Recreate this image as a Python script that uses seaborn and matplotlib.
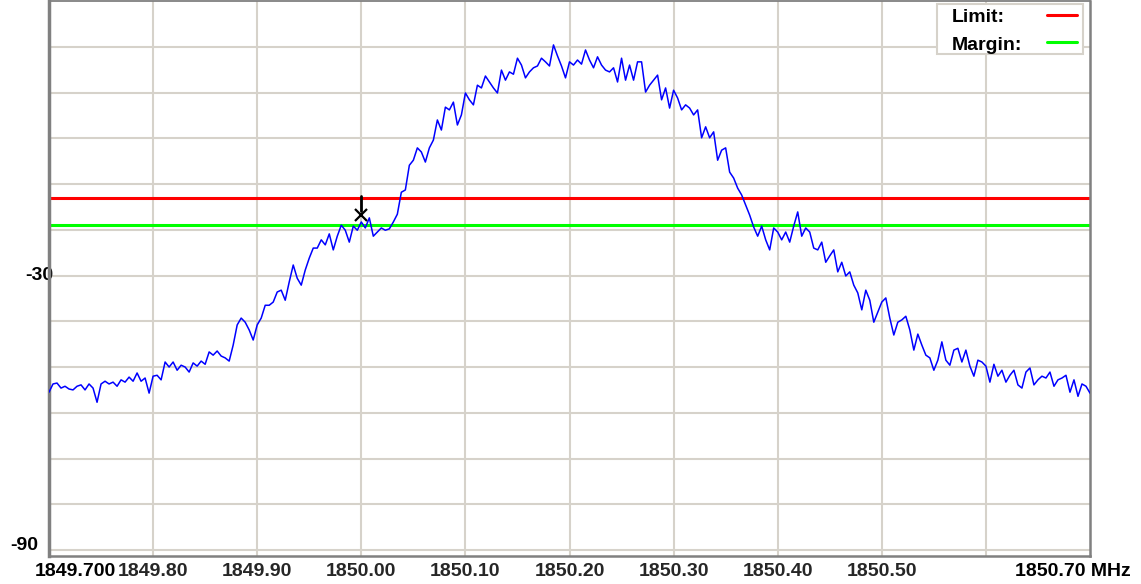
import numpy as np
import pandas as pd
import matplotlib
matplotlib.use("Agg")
import matplotlib.pyplot as plt
from matplotlib.patches import Rectangle
import seaborn as sns

# ============================================================
# 1. Data
# ============================================================
f_start, f_stop = 1849.70, 1850.70      # sweep span (MHz)
limit_db = -13.0
margin_db = -19.0
marker_freq = 1850.00
marker_level = -16.8

# trace level (dB), 261 sweep points left -> right
level_db = [
    -55.5, -53.7, -53.5, -54.6, -54.2, -54.8, -55.0, -54.2, -53.9, -55.0,
    -53.7, -54.6, -57.7, -53.7, -53.1, -53.7, -53.3, -54.2, -52.8, -53.3,
    -52.2, -53.1, -51.3, -53.1, -52.4, -55.7, -52.0, -51.8, -52.8, -48.9,
    -50.0, -48.9, -50.7, -49.6, -50.0, -51.1, -49.1, -49.8, -48.7, -49.4,
    -46.7, -47.4, -46.5, -47.6, -48.0, -48.7, -45.2, -40.8, -39.3, -40.2,
    -41.9,
    -44.1, -40.8, -39.3, -36.5, -36.5, -35.8, -33.6, -33.2, -35.4, -31.4,
    -27.7, -30.6, -32.1, -28.8, -26.2, -24.0, -24.0, -22.2, -23.3, -20.9,
    -24.4, -21.4, -19.0, -20.1, -22.7, -19.2, -20.1, -18.3, -19.6, -17.4,
    -21.4, -20.5, -19.6, -20.1, -19.8, -18.3, -16.6, -11.8, -11.3, -5.9,
    -4.8, -2.1, -3.0, -5.2, -2.1, -0.4,
    4.0, 1.8, 6.8, 6.2, 7.9, 2.9, 5.1, 9.9, 8.4, 7.3,
    11.6, 11.0, 13.6, 12.3, 11.0, 9.9, 14.9, 12.7, 14.5, 14.0,
    17.5, 16.0, 13.2, 14.5, 15.4, 15.8, 17.5, 16.7, 15.8, 20.4,
    18.0, 15.8, 13.2, 16.7, 16.0, 17.1, 16.2, 19.3, 17.1, 15.4,
    17.8, 16.0, 14.9, 14.5, 15.4, 12.3, 17.5, 12.7, 16.0, 12.7,
    16.7,
    16.7, 10.1, 11.6, 12.7, 13.8, 8.4, 11.0, 6.6, 10.5, 8.8,
    6.2, 7.3, 6.6, 5.1, 6.2, 0.1, 2.5, 0.1, 1.4, -4.8,
    -2.6, -2.1, -7.4, -8.7, -10.9, -12.4, -14.6, -16.8, -19.4, -21.4,
    -19.2, -22.2, -24.4, -19.6, -20.5, -22.2, -20.5, -22.7, -19.2, -16.1,
    -21.4, -19.6, -20.5, -24.0, -24.4,
    -22.7, -27.1, -25.7, -24.4, -29.2, -27.1, -30.1, -29.2, -32.1, -33.8,
    -37.5, -33.2, -35.4, -40.2, -38.0, -35.8, -34.9, -39.3, -43.0, -40.2,
    -39.7, -38.9, -41.9, -46.3, -42.8, -45.2, -47.4, -48.0, -50.7, -48.5,
    -44.5, -48.5, -49.6, -46.3, -45.9, -48.9, -46.3, -49.8, -52.0, -48.5,
    -48.9, -49.8, -53.3, -49.4, -52.0, -50.7,
    -53.3, -51.8, -50.7, -53.9, -54.6, -51.1, -50.2, -53.9, -52.8, -52.0,
    -52.4, -51.1, -54.2, -52.8, -52.4, -51.8, -55.5, -52.8, -56.4, -53.7,
    -54.2, -55.7,
]

x_grid = [1849.80, 1849.90, 1850.00, 1850.10, 1850.20, 1850.30, 1850.40, 1850.50, 1850.60]
x_labels = ["1849.80", "1849.90", "1850.00", "1850.10", "1850.20", "1850.30", "1850.40", "1850.50", ""]
y_grid = [-90, -80, -70, -60, -50, -40, -30, -20, -10, 0, 10, 20]

legend_labels = ["Limit:", "Margin:"]
legend_colors = ["#ff0000", "#00ff00"]

df = pd.DataFrame({
    "freq": np.linspace(f_start, f_stop, len(level_db)),
    "level": level_db,
})

# ============================================================
# 2. Figure
# ============================================================
sns.set_style("white")
plt.rcParams["font.family"] = ["Liberation Sans", "DejaVu Sans"]
plt.rcParams["font.weight"] = "bold"

fig = plt.figure(figsize=(11.41, 5.84), dpi=100)
ax = fig.add_axes([49 / 1141, 1 - 556 / 584, 1041 / 1141, 555 / 584])

grid_col = "#d6d2ca"
for xv in x_grid:
    ax.axvline(xv, color=grid_col, lw=1.5, zorder=0)
for yv in y_grid:
    ax.axhline(yv, color=grid_col, lw=1.5, zorder=0)

sns.lineplot(data=df, x="freq", y="level", color="#0000ff", linewidth=1.1, ax=ax, zorder=3)

ax.axhline(limit_db, color=legend_colors[0], lw=2.2, zorder=2)
ax.axhline(margin_db, color=legend_colors[1], lw=2.2, zorder=2)

# marker
ax.plot([marker_freq, marker_freq], [limit_db + 0.3, marker_level + 1.0], color="black", lw=2, zorder=4)
ax.plot([marker_freq], [marker_level], marker="x", color="black", ms=9, mew=1.6, zorder=4)

ax.set_xlim(f_start, f_stop)
ax.set_ylim(-91.3, 30)

ax.set_xticks(x_grid)
ax.set_xticklabels(x_labels)
ax.set_yticks([])
ax.tick_params(axis="x", length=0, pad=5, labelsize=14)
ax.set_xlabel("")
ax.set_ylabel("")

txt = dict(fontsize=14, fontweight="bold", color="black")
ax.annotate("1849.700", xy=(f_start, 0), xycoords=("data", "axes fraction"),
            xytext=(-10, -5), textcoords="offset points", ha="left", va="top", **txt)
ax.annotate("1850.70 MHz", xy=(f_stop, 0), xycoords=("data", "axes fraction"),
            xytext=(29, -5), textcoords="offset points", ha="right", va="top", **txt)
ax.annotate("-30", xy=(0, -30), xycoords=("axes fraction", "data"),
            xytext=(3, 0), textcoords="offset points", ha="right", va="center", zorder=1, **txt)
ax.annotate("-90", xy=(0, -90), xycoords=("axes fraction", "data"),
            xytext=(-8, 0), textcoords="offset points", ha="right", va="baseline", **txt)

for side, w in [("left", 2.5), ("bottom", 1.8), ("right", 1.8), ("top", 1.3)]:
    ax.spines[side].set_visible(True)
    ax.spines[side].set_color("#808080")
    ax.spines[side].set_linewidth(w)

# legend box (labels left, colour swatch right)
ax.add_patch(Rectangle((0.853, 0.9045), 0.1403, 0.0901, transform=ax.transAxes,
                       facecolor="white", edgecolor=grid_col, lw=1.5, zorder=5))
for lab, col, yy in zip(legend_labels, legend_colors, [0.9730, 0.9243]):
    ax.text(0.8674, yy, lab, transform=ax.transAxes, ha="left", va="center_baseline",
            zorder=6, **txt)
    ax.plot([0.9587, 0.9875], [yy + 0.002, yy + 0.002], transform=ax.transAxes,
            color=col, lw=2.2, zorder=6, clip_on=False)

fig.savefig("out.png", dpi=100, facecolor="white")
